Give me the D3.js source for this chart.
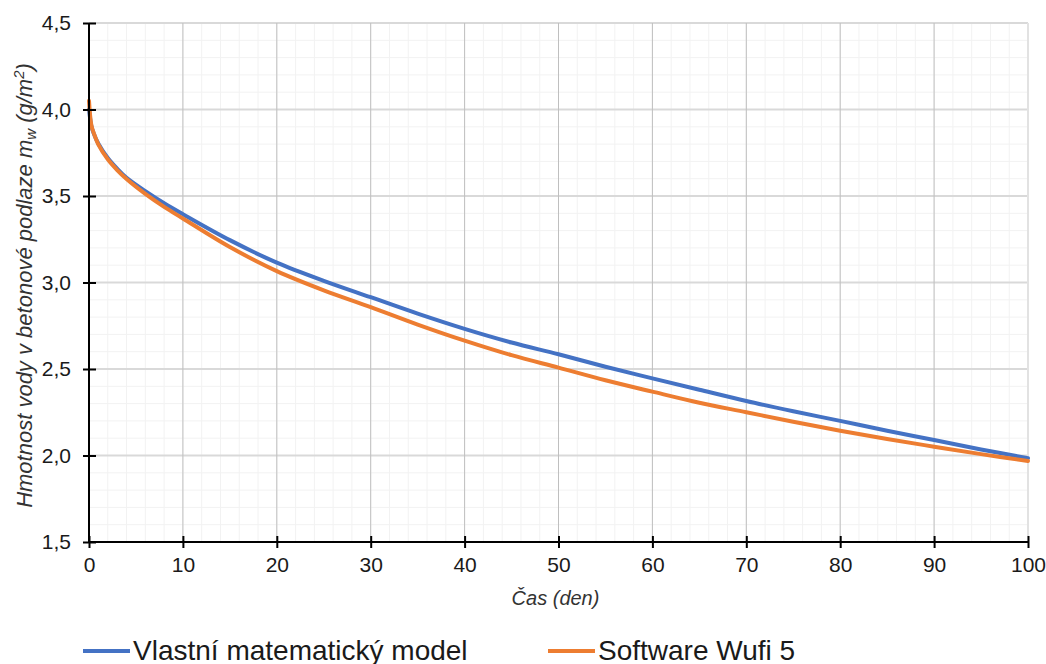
<!DOCTYPE html>
<html>
<head>
<meta charset="utf-8">
<script src="https://cdn.jsdelivr.net/npm/d3@7"></script>
<style>
  body { margin: 0; background: #fff; }
  text { font-family: "Liberation Sans", Arial, sans-serif; }
</style>
</head>
<body>
<svg id="chart" width="1046" height="664"></svg>
<script>
// time in days
var days = [0, 0.25, 0.5, 1, 2, 3, 4, 6, 8, 10, 15, 20, 25, 30, 35, 40, 45, 50, 55, 60, 65, 70, 75, 80, 85, 90, 95, 100];
// Vlastni matematicky model
var modelValues = [4.00, 3.905, 3.862, 3.802, 3.72, 3.658, 3.605, 3.528, 3.458, 3.395, 3.245, 3.115, 3.01, 2.915, 2.82, 2.732, 2.653, 2.585, 2.513, 2.446, 2.38, 2.315, 2.256, 2.20, 2.143, 2.09, 2.035, 1.985];
// Software Wufi 5
var wufiValues = [4.05, 3.91, 3.865, 3.797, 3.712, 3.65, 3.598, 3.512, 3.437, 3.37, 3.205, 3.066, 2.955, 2.858, 2.757, 2.664, 2.58, 2.508, 2.435, 2.369, 2.305, 2.25, 2.195, 2.143, 2.095, 2.051, 2.008, 1.968];

var seriesNames = ["Vlastní matematický model", "Software Wufi 5"];
var seriesColors = ["#4472C4", "#ED7D31"];
var xTicks = [0, 10, 20, 30, 40, 50, 60, 70, 80, 90, 100];
var yTicks = [1.5, 2.0, 2.5, 3.0, 3.5, 4.0, 4.5];

var svg = d3.select("#chart"),
    margin = {top: 23, right: 18, bottom: 122, left: 89},
    width = +svg.attr("width") - margin.left - margin.right,
    height = +svg.attr("height") - margin.top - margin.bottom;

var x = d3.scaleLinear().domain([0, 100]).range([margin.left, margin.left + width]);
var y = d3.scaleLinear().domain([1.5, 4.5]).range([margin.top + height, margin.top]);

var comma = function(d) { return d3.format(".1f")(d).replace(".", ","); };

// minor grid
var grid = svg.append("g");
grid.selectAll(".vminor")
  .data(d3.range(0, 101, 2))
  .enter().append("line")
    .attr("x1", function(d) { return x(d); })
    .attr("x2", function(d) { return x(d); })
    .attr("y1", y(1.5)).attr("y2", y(4.5))
    .attr("stroke", "#f2f2f2").attr("stroke-width", 1);
grid.selectAll(".hminor")
  .data(d3.range(15, 46).map(function(d) { return d / 10; }))
  .enter().append("line")
    .attr("x1", x(0)).attr("x2", x(100))
    .attr("y1", function(d) { return y(d); })
    .attr("y2", function(d) { return y(d); })
    .attr("stroke", "#f2f2f2").attr("stroke-width", 1);

// major grid
grid.selectAll(".hmajor")
  .data(yTicks)
  .enter().append("line")
    .attr("x1", x(0)).attr("x2", x(100))
    .attr("y1", function(d) { return y(d); })
    .attr("y2", function(d) { return y(d); })
    .attr("stroke", "#d9d9d9").attr("stroke-width", 2);
grid.selectAll(".vmajor")
  .data(xTicks.slice(1))
  .enter().append("line")
    .attr("x1", function(d) { return x(d); })
    .attr("x2", function(d) { return x(d); })
    .attr("y1", y(1.5)).attr("y2", y(4.5))
    .attr("stroke", function(d) { return d === 100 ? "#e2e2e2" : "#bfbfbf"; })
    .attr("stroke-width", function(d) { return d === 100 ? 2 : 1; });

// lines
var line = d3.line()
    .x(function(d) { return x(d[0]); })
    .y(function(d) { return y(d[1]); })
    .curve(d3.curveCatmullRom.alpha(0.5));

[modelValues, wufiValues].forEach(function(vals, i) {
  svg.append("path")
    .datum(days.map(function(t, j) { return [t, vals[j]]; }))
    .attr("fill", "none")
    .attr("stroke", seriesColors[i])
    .attr("stroke-width", 4)
    .attr("stroke-linejoin", "round")
    .attr("stroke-linecap", "round")
    .attr("d", line);
});

// axes
var yAxis = svg.append("g")
    .attr("transform", "translate(" + x(0) + ",0)")
    .call(d3.axisLeft(y).tickValues(yTicks).tickFormat(comma).tickSize(13).tickPadding(5));
yAxis.selectAll(".tick line").attr("x2", 7).attr("x1", -6).attr("stroke-width", 2);

var xAxis = svg.append("g")
    .attr("transform", "translate(0," + y(1.5) + ")")
    .call(d3.axisBottom(x).tickValues(xTicks).tickSize(6).tickPadding(9));
xAxis.selectAll(".tick line").attr("y1", -6).attr("y2", 6).attr("stroke-width", 2);

svg.selectAll(".domain").attr("stroke", "#000").attr("stroke-width", 2);
svg.selectAll(".tick line").attr("stroke", "#000");
svg.selectAll(".tick text")
    .attr("font-size", 21)
    .attr("fill", "#1a1a1a")
    .attr("font-family", "Liberation Sans, Arial, sans-serif");
yAxis.selectAll(".domain").attr("d", "M0," + y(1.5) + "V" + y(4.5));
xAxis.selectAll(".domain").attr("d", "M" + x(0) + ",0H" + x(100));

// axis titles
svg.append("text")
    .attr("x", x(50) - 3)
    .attr("y", 605)
    .attr("text-anchor", "middle")
    .attr("font-size", 20)
    .attr("font-style", "italic")
    .attr("fill", "#333")
    .text("Čas (den)");

var yt = svg.append("text")
    .attr("transform", "translate(32," + (y(3) + 3) + ") rotate(-90)")
    .attr("text-anchor", "middle")
    .attr("font-size", 22)
    .attr("font-style", "italic")
    .attr("fill", "#333");
yt.append("tspan").text("Hmotnost vody v betonové podlaze m");
yt.append("tspan").attr("font-size", 15).attr("dy", 4).text("w");
yt.append("tspan").attr("dy", -4).text(" (g/m");
yt.append("tspan").attr("font-size", 15).attr("dy", -8).text("2");
yt.append("tspan").attr("dy", 8).text(")");

// legend
var legendX = [83, 548];
var legend = svg.append("g")
  .selectAll("g")
  .data(seriesNames)
  .enter().append("g")
    .attr("transform", function(d, i) { return "translate(" + legendX[i] + ",651)"; });

legend.append("line")
    .attr("x1", 0).attr("x2", 47)
    .attr("stroke", function(d, i) { return seriesColors[i]; })
    .attr("stroke-width", 4);

legend.append("text")
    .attr("x", 50)
    .attr("y", 9)
    .attr("font-size", 28)
    .attr("fill", "#1a1a1a")
    .text(function(d) { return d; });
</script>
</body>
</html>
